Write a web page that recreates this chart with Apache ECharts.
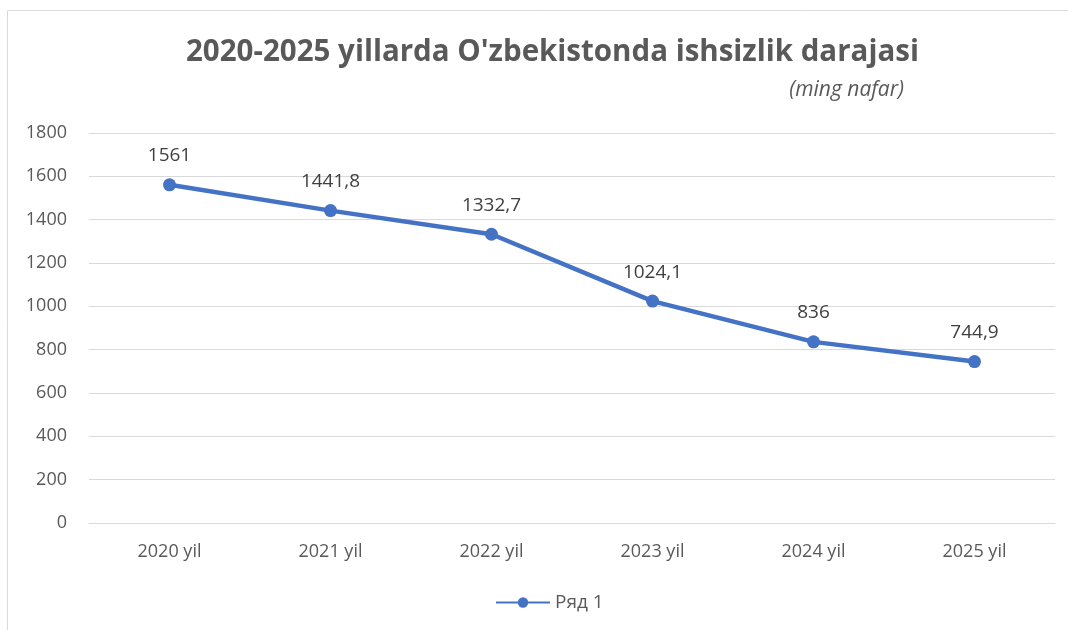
<!DOCTYPE html>
<html><head><meta charset="utf-8">
<script src="https://cdn.jsdelivr.net/npm/echarts@6/dist/echarts.min.js"></script>
<style>html,body{margin:0;padding:0;background:#fff}#c{width:1068px;height:630px}</style>
</head><body><div id="c"></div>
<script>
const categories = ['2020 yil','2021 yil','2022 yil','2023 yil','2024 yil','2025 yil'];
const values = [1561, 1441.8, 1332.7, 1024.1, 836, 744.9];
const seriesName = 'Ряд 1';
const titleText = "2020-2025 yillarda O'zbekistonda ishsizlik darajasi";
const subText = '(ming nafar)';

const chart = echarts.init(document.getElementById('c'));
chart.setOption({
  animation: false,
  graphic: [{type:'rect', shape:{x:7.5,y:10.5,width:1100,height:700}, style:{fill:'none',stroke:'#d9d9d9',lineWidth:1}, silent:true}],
  title: [
    {text: titleText, left: 181, top: 33, textStyle:{fontFamily:'Open Sans', fontWeight:'bold', fontSize:29.5, color:'#595959'}},
    {text: subText, right: 159, top: 75, textStyle:{fontFamily:'Open Sans', fontStyle:'italic', fontWeight:'normal', fontSize:21, color:'#595959'}}
  ],
  legend: {bottom: 13, left: 490, itemWidth: 54, itemHeight: 13, itemGap: 4, textStyle:{fontFamily:'Open Sans', fontSize:19, color:'#595959'}, data:[seriesName]},
  grid: {left: 89, right: 13, top: 133, bottom: 107, containLabel: false},
  xAxis: {type:'category', data: categories, boundaryGap: true,
    axisLine:{show:true, lineStyle:{color:'#d9d9d9'}}, axisTick:{show:false},
    axisLabel:{fontFamily:'Open Sans', fontSize:18, color:'#595959', margin:20}},
  yAxis: {type:'value', min:0, max:1800, interval:200,
    axisLine:{show:false}, axisTick:{show:false},
    splitLine:{lineStyle:{color:'#d9d9d9'}},
    axisLabel:{fontFamily:'Open Sans', fontSize:18, color:'#595959', margin:22, formatter: v => String(v)}},
  series: [{
    name: seriesName, type:'line', data: values,
    symbol:'circle', symbolSize:13,
    lineStyle:{color:'#4472C4', width:4.5},
    itemStyle:{color:'#4472C4'},
    label:{show:true, position:'top', distance:13, fontFamily:'Open Sans', fontSize:19, color:'#404040',
      formatter: p => String(p.value).replace('.', ',')}
  }]
});
</script></body></html>
